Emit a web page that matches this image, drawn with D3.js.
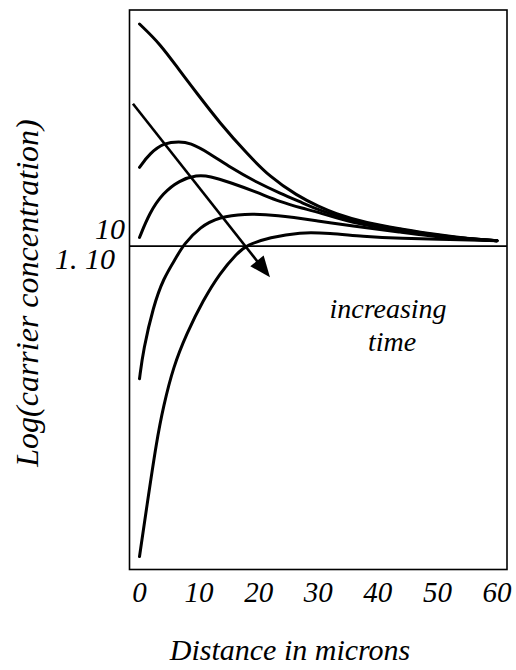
<!DOCTYPE html>
<html>
<head>
<meta charset="utf-8">
<script src="https://cdn.jsdelivr.net/npm/d3@7"></script>
</head>
<body style="margin:0">
<svg width="516" height="670"></svg>
<script>
var width = 516;
var height = 670;
var frame = { left: 129.5, right: 507, top: 10, bottom: 569.5 };
var baseSize = 28; // larger sizes fall back to a sans face here, so scale instead

// distance (microns) and log10 carrier concentration
var xTicks = [0, 10, 20, 30, 40, 50, 60];
var yRef = 10; // the 1.10^10 level

var curveA = [[0, 12.06], [3.4, 11.88], [6.7, 11.63], [9.6, 11.42], [13.5, 11.14], [18, 10.86],
  [21.9, 10.64], [26.4, 10.47], [30.3, 10.36], [32.5, 10.31], [38.2, 10.21], [43.8, 10.16],
  [49.3, 10.11], [55, 10.07], [60, 10.05]];
var curveB = [[0, 10.73], [1.7, 10.86], [4.2, 10.96], [6.7, 10.97], [8.4, 10.96], [11.8, 10.86],
  [15.2, 10.73], [19.7, 10.59], [23.6, 10.49], [27.4, 10.40], [30.3, 10.33], [35.3, 10.24],
  [43.8, 10.15], [52.2, 10.08], [60, 10.05]];
var curveC = [[0, 10.08], [1.7, 10.31], [3.9, 10.49], [6.7, 10.61], [9.6, 10.66], [11.8, 10.65],
  [15.2, 10.59], [19.7, 10.50], [23.6, 10.41], [27.4, 10.35], [30.3, 10.31], [35.3, 10.22],
  [43.8, 10.14], [52.2, 10.08], [60, 10.05]];
var curveD = [[0, 8.77], [0.64, 9.04], [2.32, 9.44], [4.0, 9.70], [6.24, 9.90], [7.35, 10.01],
  [10.16, 10.18], [13.5, 10.27], [17.4, 10.30], [23.0, 10.29], [30.3, 10.23], [35.3, 10.19],
  [43.8, 10.13], [52.2, 10.07], [60, 10.05]];
var curveE = [[0, 7.12], [1.21, 7.58], [2.89, 8.20], [4.0, 8.51], [5.67, 8.88], [7.92, 9.19],
  [10.7, 9.50], [13.5, 9.75], [16.3, 9.93], [18, 10.01], [21.9, 10.08], [26.9, 10.13],
  [31.9, 10.12], [37.4, 10.09], [43.8, 10.07], [52.2, 10.06], [60, 10.05]];
var curves = [curveA, curveB, curveC, curveD, curveE];

// "increasing time" arrow, start and tip in data units
var arrowFrom = [-1.1, 11.32];
var arrowTo = [21.9, 9.71];

var xScale = d3.scaleLinear().domain([-1.68, 61.68]).range([frame.left, frame.right]);
var yScale = d3.scaleLinear().domain([7, 12.19]).range([frame.bottom, frame.top]);

var svg = d3.select("svg");
svg.append("rect").attr("width", width).attr("height", height).attr("fill", "#fff");

// frame
svg.append("rect")
  .attr("x", frame.left).attr("y", frame.top)
  .attr("width", frame.right - frame.left)
  .attr("height", frame.bottom - frame.top)
  .attr("fill", "none").attr("stroke", "#000").attr("stroke-width", 1.6);

// reference level
svg.append("line")
  .attr("x1", frame.left).attr("x2", frame.right)
  .attr("y1", yScale(yRef)).attr("y2", yScale(yRef))
  .attr("stroke", "#000").attr("stroke-width", 1.6);

function label(x, y, size, anchor, txt, angle) {
  return svg.append("text")
    .attr("transform", "translate(" + x + "," + y + ") rotate(" + (angle || 0) + ") scale(" + (size / baseSize) + ")")
    .attr("text-anchor", anchor)
    .style("font-family", "'Liberation Serif'")
    .style("font-style", "italic")
    .style("font-size", baseSize + "px")
    .attr("fill", "#000")
    .text(txt);
}

// x tick labels (axis only used for positions)
var xAxis = d3.axisBottom(xScale).tickValues(xTicks).tickSize(0);
var gx = svg.append("g").attr("opacity", 0).call(xAxis);
gx.selectAll(".tick").each(function(d) {
  label(xScale(d), frame.bottom + 32.5, 29, "middle", d3.format("d")(d));
});
gx.remove();

// y level labels
label(125, yScale(yRef) - 7, 30, "end", "10");
label(115, yScale(yRef) + 23, 30, "end", "1. 10");

// curves
var line = d3.line()
  .x(function(d) { return xScale(d[0]); })
  .y(function(d) { return yScale(d[1]); })
  .curve(d3.curveBasis);

svg.selectAll("path.curve").data(curves)
  .enter()
  .append("path")
  .attr("class", "curve")
  .attr("d", line)
  .attr("fill", "none")
  .attr("stroke", "#000")
  .attr("stroke-width", 3)
  .attr("stroke-linecap", "round")
  .attr("stroke-linejoin", "round");

// arrow
var ax0 = xScale(arrowFrom[0]), ay0 = yScale(arrowFrom[1]);
var ax1 = xScale(arrowTo[0]), ay1 = yScale(arrowTo[1]);
var len = Math.hypot(ax1 - ax0, ay1 - ay0);
var ux = (ax1 - ax0) / len, uy = (ay1 - ay0) / len;
var headLen = 21, headHalf = 8.5;
var bx = ax1 - ux * headLen, by = ay1 - uy * headLen;
svg.append("line")
  .attr("x1", ax0).attr("y1", ay0)
  .attr("x2", bx + ux * 2).attr("y2", by + uy * 2)
  .attr("stroke", "#000").attr("stroke-width", 2.6);
svg.append("path")
  .attr("d", "M" + ax1 + "," + ay1 +
    "L" + (bx - uy * headHalf) + "," + (by + ux * headHalf) +
    "L" + (bx + uy * headHalf) + "," + (by - ux * headHalf) + "Z")
  .attr("fill", "#000");

// annotation
label(388, 318, 28, "middle", "increasing");
label(392, 351, 28, "middle", "time");

// axis titles
label(290, 660, 30, "middle", "Distance in microns");
label(38, 293, 32, "middle", "Log(carrier concentration)", -90);
</script>
</body>
</html>
